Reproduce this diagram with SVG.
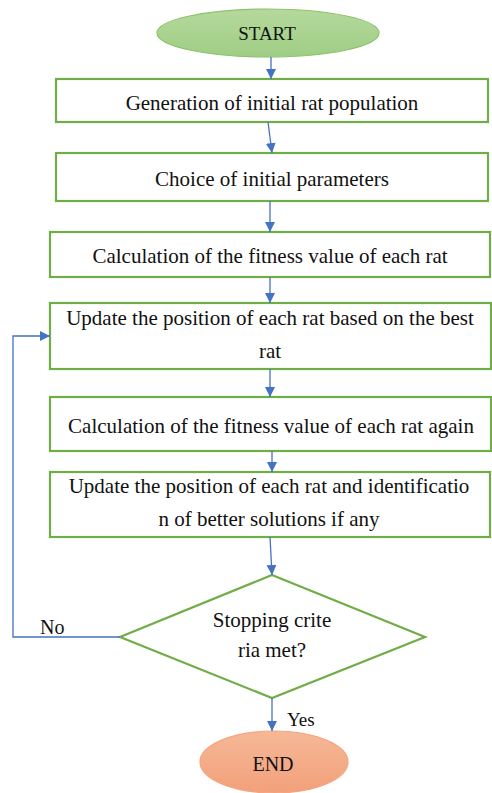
<svg xmlns="http://www.w3.org/2000/svg" width="492" height="793" viewBox="0 0 492 793">
<style>
.box{fill:#ffffff;stroke:#70ad47;stroke-width:2.2}
.con{fill:none;stroke:#4472c4;stroke-width:1.3}
</style>
<defs>
<linearGradient id="gs" x1="0" y1="0" x2="0" y2="1">
<stop offset="0" stop-color="#b5d99c"/><stop offset="1" stop-color="#9fcd85"/>
</linearGradient>
<linearGradient id="ge" x1="0" y1="0" x2="0" y2="1">
<stop offset="0" stop-color="#f6b897"/><stop offset="1" stop-color="#f2a07a"/>
</linearGradient>
<marker id="ah" viewBox="0 0 10 10" refX="10" refY="5" markerWidth="10" markerHeight="10" markerUnits="userSpaceOnUse" orient="auto">
<path d="M0,0 L10,5 L0,10 z" fill="#4472c4"/>
</marker>
</defs>
<g font-family="Liberation Serif, Times New Roman, DejaVu Serif, serif" font-size="21" fill="#111111">
<g id="start">
<ellipse cx="268" cy="33" rx="111" ry="24" fill="url(#gs)" stroke="#8cc36a" stroke-width="1.2"/>
<text x="267" y="40" font-size="19" text-anchor="middle">START</text>
</g>
<g id="n1">
<rect class="box" x="56" y="79" width="432" height="43"/>
<text x="272" y="110" text-anchor="middle">Generation of initial rat population</text>
</g>
<g id="n2">
<rect class="box" x="56" y="153" width="432" height="48"/>
<text x="272" y="186" text-anchor="middle">Choice of initial parameters</text>
</g>
<g id="n3">
<rect class="box" x="50" y="232" width="440" height="45"/>
<text x="270" y="263" text-anchor="middle">Calculation of the fitness value of each rat</text>
</g>
<g id="n4">
<rect class="box" x="50" y="303" width="441" height="66"/>
<text x="270" y="325" text-anchor="middle">Update the position of each rat based on the best</text>
<text x="270" y="358" text-anchor="middle">rat</text>
</g>
<g id="n5">
<rect class="box" x="50" y="397" width="441" height="54"/>
<text x="271" y="433" text-anchor="middle">Calculation of the fitness value of each rat again</text>
</g>
<g id="n6">
<rect class="box" x="50" y="472" width="440" height="65"/>
<text x="269" y="493" text-anchor="middle">Update the position of each rat and identificatio</text>
<text x="269" y="526" text-anchor="middle">n of better solutions if any</text>
</g>
<g id="decision">
<polygon points="272,575 425,637 272,698 120,637" fill="#ffffff" stroke="#70ad47" stroke-width="2.2"/>
<text x="272" y="627" text-anchor="middle">Stopping crite</text>
<text x="272" y="657" text-anchor="middle">ria met?</text>
</g>
<g id="end">
<ellipse cx="274" cy="762" rx="74" ry="31" fill="url(#ge)" stroke="#f4a57f" stroke-width="1.2"/>
<text x="273" y="771" font-size="20" text-anchor="middle">END</text>
</g>
<g id="connectors">
<line class="con" x1="271" y1="57" x2="271" y2="79" marker-end="url(#ah)"/>
<line class="con" x1="268" y1="122" x2="272" y2="153" marker-end="url(#ah)"/>
<line class="con" x1="270" y1="201" x2="270" y2="232" marker-end="url(#ah)"/>
<line class="con" x1="270" y1="277" x2="270" y2="303" marker-end="url(#ah)"/>
<line class="con" x1="270" y1="369" x2="270" y2="397" marker-end="url(#ah)"/>
<line class="con" x1="272" y1="451" x2="272" y2="472" marker-end="url(#ah)"/>
<line class="con" x1="270" y1="537" x2="272" y2="575" marker-end="url(#ah)"/>
<line class="con" x1="272" y1="698" x2="272" y2="731" marker-end="url(#ah)"/>
<polyline class="con" points="120,637 13,637 13,336 50,336" marker-end="url(#ah)"/>
<text x="40" y="634" font-size="20">No</text>
<text x="287" y="726" font-size="19">Yes</text>
</g>
</g>
</svg>
